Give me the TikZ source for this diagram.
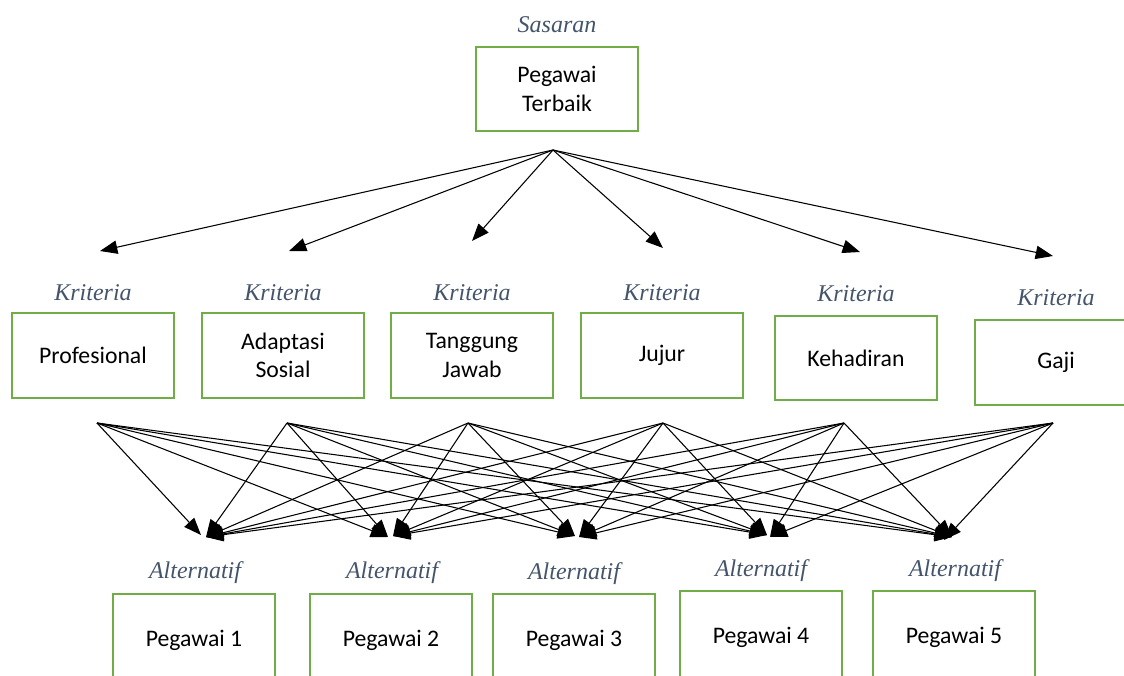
\documentclass[tikz,border=0pt]{standalone}
\usepackage{fontspec}
\setmainfont{Carlito}
\newfontfamily\lblfont{Liberation Serif}
\usetikzlibrary{arrows.meta}
\definecolor{boxgreen}{RGB}{112,173,71}
\definecolor{lblcol}{RGB}{68,84,106}
\begin{document}
\begin{tikzpicture}[x=0.75pt,y=-0.75pt,
  box/.style={draw=boxgreen,line width=1.6pt,minimum width=121.5pt,minimum height=63.5pt,align=center,inner sep=0pt,font=\fontsize{17.8}{21.5}\selectfont},
  altbox/.style={box,minimum height=69pt},
  lbl/.style={font=\lblfont\itshape\fontsize{18}{20}\selectfont,text=lblcol,inner sep=0pt},
  arr/.style={-{Triangle[length=13pt,width=10pt]},line width=0.8pt}]
\useasboundingbox (0,0) rectangle (1124,675);
\clip (0,0) rectangle (1124,675);
% top
\node[lbl] (lsas) at (557,25) {Sasaran};
\node[box] (top) at (557,89) {Pegawai\\Terbaik};
\coordinate (src) at (553,150);
% criteria
\node[lbl] (lk1) at (93,293) {Kriteria};
\node[box] (c1) at (93,355.5) {Profesional};
\node[lbl] (lk2) at (283,293) {Kriteria};
\node[box] (c2) at (283,355.5) {Adaptasi\\Sosial};
\node[lbl] (lk3) at (472,293) {Kriteria};
\node[box] (c3) at (472,355.5) {Tanggung\\Jawab};
\node[lbl] (lk4) at (662,293) {Kriteria};
\node[box] (c4) at (662,355.5) {Jujur};
\node[lbl] (lk5) at (856,294) {Kriteria};
\node[box] (c5) at (856,358) {Kehadiran};
\node[lbl] (lk6) at (1056,298) {Kriteria};
\node[box] (c6) at (1056,362.5) {Gaji};
% top arrow targets
\coordinate (t1) at (100,251);
\coordinate (t2) at (289,251);
\coordinate (t3) at (472,241);
\coordinate (t4) at (663,248);
\coordinate (t5) at (860,252);
\coordinate (t6) at (1053,256);
\foreach \t in {t1,t2,t3,t4,t5,t6} \draw[arr] (src) -- (\t);
% alternatives
\node[lbl] (la1) at (195,573) {Alternatif};
\node[altbox,anchor=north] (a1) at (194,593) {\raisebox{-4.5pt}{Pegawai 1}};
\node[lbl] (la2) at (392,573) {Alternatif};
\node[altbox,anchor=north] (a2) at (391,593) {\raisebox{-4.5pt}{Pegawai 2}};
\node[lbl] (la3) at (574,574) {Alternatif};
\node[altbox,anchor=north] (a3) at (574,593) {\raisebox{-4.5pt}{Pegawai 3}};
\node[lbl] (la4) at (761,571) {Alternatif};
\node[altbox,anchor=north] (a4) at (761,590) {\raisebox{-4.5pt}{Pegawai 4}};
\node[lbl] (la5) at (955,571) {Alternatif};
\node[altbox,anchor=north] (a5) at (954,590) {\raisebox{-4.5pt}{Pegawai 5}};
% sources below criteria
\coordinate (s1) at (97,423);
\coordinate (s2) at (287,423);
\coordinate (s3) at (468,423);
\coordinate (s4) at (663,423);
\coordinate (s5) at (844,423);
\coordinate (s6) at (1053,423);
% targets
\coordinate (a1L) at (201,535);
\coordinate (a1R) at (206,537);
\coordinate (a2L) at (388,537);
\coordinate (a2R) at (393,536);
\coordinate (a3L) at (575,536);
\coordinate (a3R) at (579,537);
\coordinate (a4L) at (767,535);
\coordinate (a4R) at (770,537);
\coordinate (a5L) at (952,537);
\coordinate (a5R) at (944,540);
\foreach \s/\sx in {s1/97,s2/287,s3/468,s4/663,s5/844,s6/1053}
  \foreach \a/\ax in {a1/194,a2/391,a3/574,a4/761,a5/954}{
    \ifdim \sx pt<\ax pt
      \draw[arr] (\s) -- (\a L);
    \else
      \draw[arr] (\s) -- (\a R);
    \fi
  }
\end{tikzpicture}
\end{document}
